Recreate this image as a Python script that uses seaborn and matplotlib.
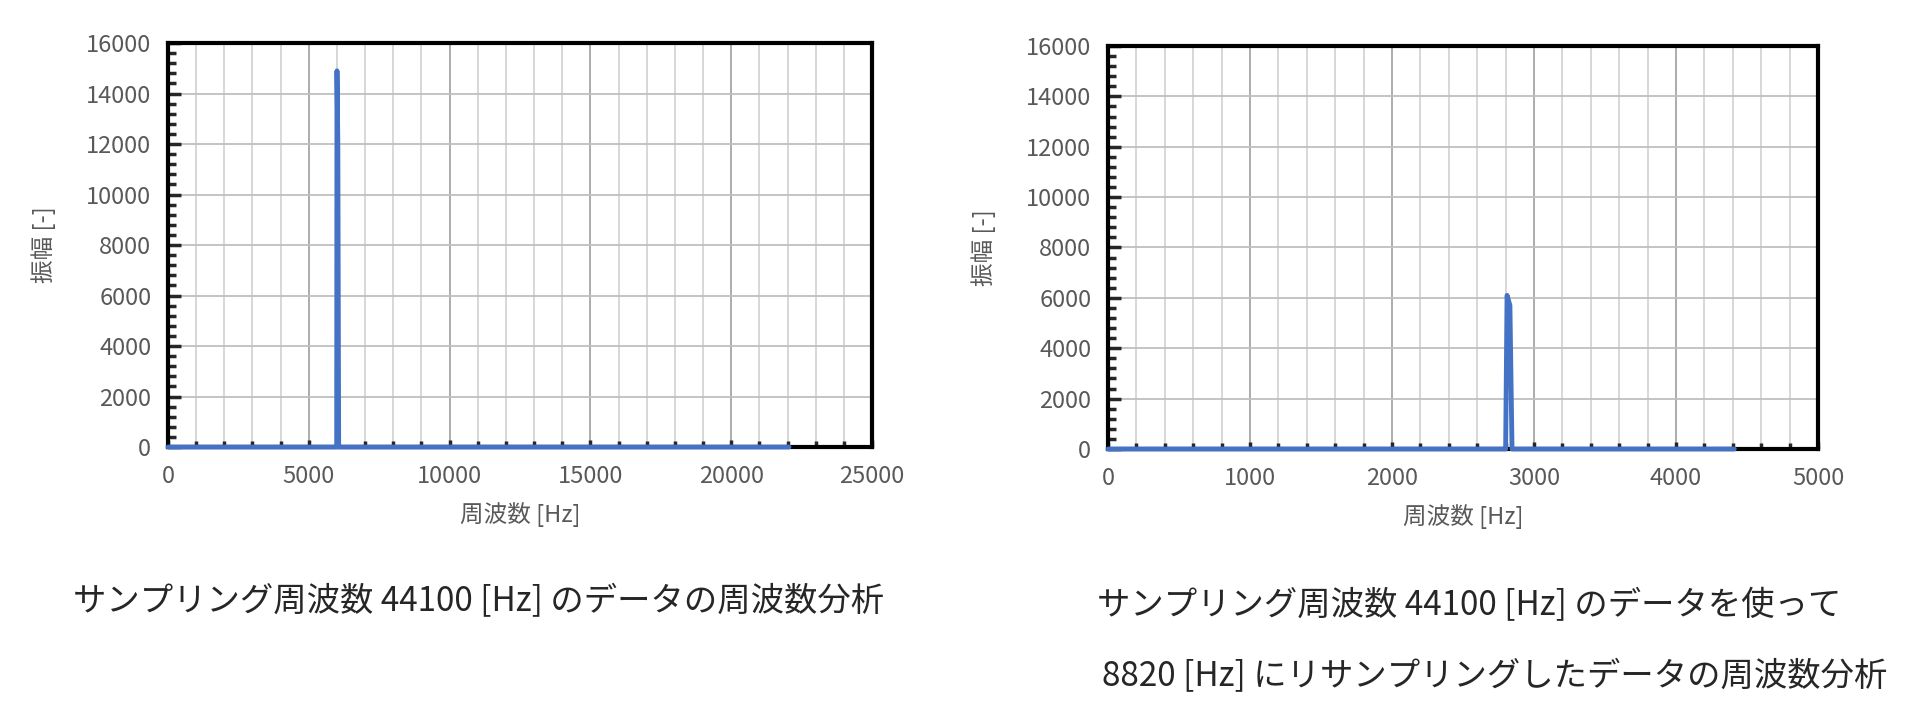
import matplotlib
matplotlib.use("Agg")
import matplotlib.pyplot as plt
import seaborn as sns
from matplotlib.ticker import MultipleLocator

# 44100 Hz sampling: spectrum up to Nyquist 22050 Hz, tone near 6000 Hz
freq_orig = [0, 5960, 5990, 6000, 6030, 6060, 22050]
amp_orig = [0, 0, 0, 14900, 12000, 0, 0]

# resampled to 8820 Hz: spectrum up to 4410 Hz, aliased peak near 2820 Hz
freq_res = [0, 2790, 2800, 2810, 2830, 2845, 4410]
amp_res = [0, 0, 0, 6100, 5700, 0, 0]

ylabel = "振幅 [-]"
xlabel = "周波数 [Hz]"
caption_left = "サンプリング周波数 44100 [Hz] のデータの周波数分析"
caption_right = ["サンプリング周波数 44100 [Hz] のデータを使って",
                 "8820 [Hz] にリサンプリングしたデータの周波数分析"]

sns.set_style("white")
plt.rcParams['font.family'] = ['Noto Sans CJK JP', 'DejaVu Sans']

line_col = "#4472c4"
tick_col = "#595959"

fig = plt.figure(figsize=(19.2, 7.15), dpi=100)
ax1 = fig.add_axes([0.0875, 0.3748, 0.3667, 0.565])
ax2 = fig.add_axes([0.5771, 0.372, 0.3698, 0.5637])


def style_axes(ax, xmax, xmajor, xminor):
    ax.set_xlim(0, xmax)
    ax.set_ylim(0, 16000)
    ax.xaxis.set_major_locator(MultipleLocator(xmajor))
    ax.xaxis.set_minor_locator(MultipleLocator(xminor))
    ax.yaxis.set_major_locator(MultipleLocator(2000))
    ax.yaxis.set_minor_locator(MultipleLocator(400))
    ax.grid(True, which="minor", axis="x", color="#d4d4d4", lw=1.3)
    ax.grid(True, which="major", axis="x", color="#a6a6a6", lw=1.3)
    ax.grid(True, which="major", axis="y", color="#bfbfbf", lw=1.3)
    ax.set_axisbelow(True)
    for s in ax.spines.values():
        s.set_visible(True)
        s.set_color("black")
        s.set_linewidth(3)
    ax.tick_params(axis="y", which="major", direction="in", length=9, width=2.5,
                   left=True, labelsize=17, labelcolor=tick_col, pad=12)
    ax.tick_params(axis="y", which="minor", direction="in", length=6, width=2.5, left=True)
    ax.tick_params(axis="x", which="major", direction="in", length=5, width=2.5,
                   bottom=True, labelsize=17, labelcolor=tick_col, pad=13)
    ax.tick_params(axis="x", which="minor", direction="in", length=4, width=2.5, bottom=True)
    ax.set_xlabel(xlabel, fontsize=17, color=tick_col, labelpad=10)
    ax.set_ylabel(ylabel, fontsize=17, color=tick_col, labelpad=22)


sns.lineplot(x=freq_orig, y=amp_orig, ax=ax1, color=line_col, lw=3.5, zorder=5, clip_on=False)
sns.lineplot(x=freq_res, y=amp_res, ax=ax2, color=line_col, lw=3.5, zorder=5, clip_on=False)

style_axes(ax1, 25000, 5000, 1000)
style_axes(ax2, 5000, 1000, 200)

fig.text(0.2495, 0.158, caption_left, fontsize=24, color="#262626", ha="center", va="center")
fig.text(0.7651, 0.153, caption_right[0], fontsize=24, color="#262626", ha="center", va="center")
fig.text(0.7784, 0.053, caption_right[1], fontsize=24, color="#262626", ha="center", va="center")

fig.savefig("out.png", dpi=100)
